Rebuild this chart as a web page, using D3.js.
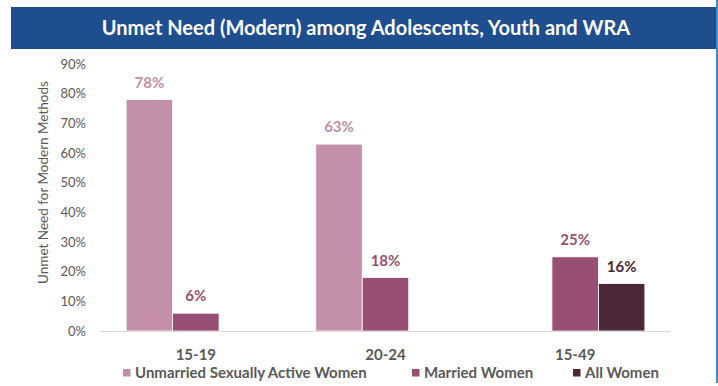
<!DOCTYPE html>
<html>
<head>
<meta charset="utf-8">
<script src="https://cdn.jsdelivr.net/npm/d3@7"></script>
<style>
  html, body { margin: 0; padding: 0; background: #fff; }
  svg { display: block; }
</style>
</head>
<body>
<svg id="chart" width="718" height="386"></svg>
<script>
// Age groups on the x axis
const ageGroups = ["15-19", "20-24", "15-49"];
// Series names, in drawing order within each group
const seriesNames = ["Unmarried Sexually Active Women", "Married Women", "All Women"];
// Unmet need (%) per series, aligned with ageGroups (null = not reported)
const unmarriedValues = [78, 63, null];
const marriedValues = [6, 18, 25];
const allWomenValues = [null, null, 16];
// Y axis ticks
const yTicks = [0, 10, 20, 30, 40, 50, 60, 70, 80, 90];

const seriesValues = [unmarriedValues, marriedValues, allWomenValues];
const barColors = ["#C48FA9", "#974F73", "#4A2838"];
const labelColors = ["#C48FA9", "#974F73", "#4A2838"];

const svg = d3.select("#chart");
const font = "Lato, 'Open Sans', sans-serif";
const grey = "#595959";

// Title banner
svg.append("rect").attr("x", 11).attr("y", 7).attr("width", 705).attr("height", 42)
  .attr("fill", "#1F4E8F");
svg.append("text").attr("x", 366).attr("y", 35).attr("text-anchor", "middle")
  .attr("fill", "#fff").attr("font-family", font).attr("font-weight", 700)
  .attr("font-size", 20).text("Unmet Need (Modern) among Adolescents, Youth and WRA");

// Right edge frame line
svg.append("rect").attr("x", 716).attr("y", 0).attr("width", 2).attr("height", 383)
  .attr("fill", "#3A8ED0");

const plot = { left: 101, right: 670, top: 64, bottom: 331 };

const x0 = d3.scaleBand().domain(ageGroups)
  .range([plot.left, plot.right]).paddingInner(0.265).paddingOuter(0.1325);
const x1 = d3.scaleBand().domain(d3.range(seriesNames.length))
  .range([0, x0.bandwidth()]);
const y = d3.scaleLinear().domain([0, 90]).range([plot.bottom, plot.top]);

// Y axis tick labels
const yAxis = svg.append("g").attr("transform", `translate(${plot.left},0)`)
  .call(d3.axisLeft(y).tickValues(yTicks).tickFormat(d => d + "%").tickSize(0).tickPadding(15));
yAxis.select(".domain").remove();
yAxis.selectAll("text").attr("fill", grey).attr("font-family", font).attr("font-size", 13);

// Y axis title
svg.append("text")
  .attr("transform", `translate(48,${(plot.top + plot.bottom) / 2 - 15}) rotate(-90)`)
  .attr("text-anchor", "middle").attr("fill", grey).attr("font-family", font)
  .attr("font-size", 13.5).text("Unmet Need for Modern Methods");

// Bars and value labels
seriesValues.forEach((vals, si) => {
  const g = svg.append("g");
  const data = ageGroups.map((a, i) => ({ group: a, value: vals[i] })).filter(d => d.value != null);
  g.selectAll("rect").data(data).join("rect")
    .attr("x", d => x0(d.group) + x1(si))
    .attr("y", d => y(d.value))
    .attr("width", x1.bandwidth())
    .attr("height", d => y(0) - y(d.value))
    .attr("fill", barColors[si])
    .attr("stroke", "#fff").attr("stroke-width", 0.8);
  g.selectAll("text").data(data).join("text")
    .attr("x", d => x0(d.group) + x1(si) + x1.bandwidth() / 2)
    .attr("y", d => y(d.value) - 12)
    .attr("text-anchor", "middle").attr("fill", labelColors[si])
    .attr("font-family", font).attr("font-weight", 700).attr("font-size", 15)
    .text(d => d.value + "%");
});

// Baseline
svg.append("line").attr("x1", plot.left).attr("x2", plot.right)
  .attr("y1", plot.bottom + 0.5).attr("y2", plot.bottom + 0.5)
  .attr("stroke", "#D9D9D9").attr("stroke-width", 1);

// X axis category labels
const xAxis = svg.append("g").attr("transform", `translate(0,${plot.bottom})`)
  .call(d3.axisBottom(x0).tickSize(0).tickPadding(18));
xAxis.select(".domain").remove();
xAxis.selectAll("text").attr("fill", grey).attr("font-family", font)
  .attr("font-weight", 700).attr("font-size", 15);

// Legend
const legendX = [123, 412, 573];
const legend = svg.append("g");
seriesNames.forEach((name, i) => {
  legend.append("rect").attr("x", legendX[i]).attr("y", 369).attr("width", 7.5).attr("height", 7.5)
    .attr("fill", barColors[i]);
  legend.append("text").attr("x", legendX[i] + 12).attr("y", 377.5)
    .attr("fill", grey).attr("font-family", font).attr("font-weight", 700)
    .attr("font-size", 15).text(name);
});
</script>
</body>
</html>
